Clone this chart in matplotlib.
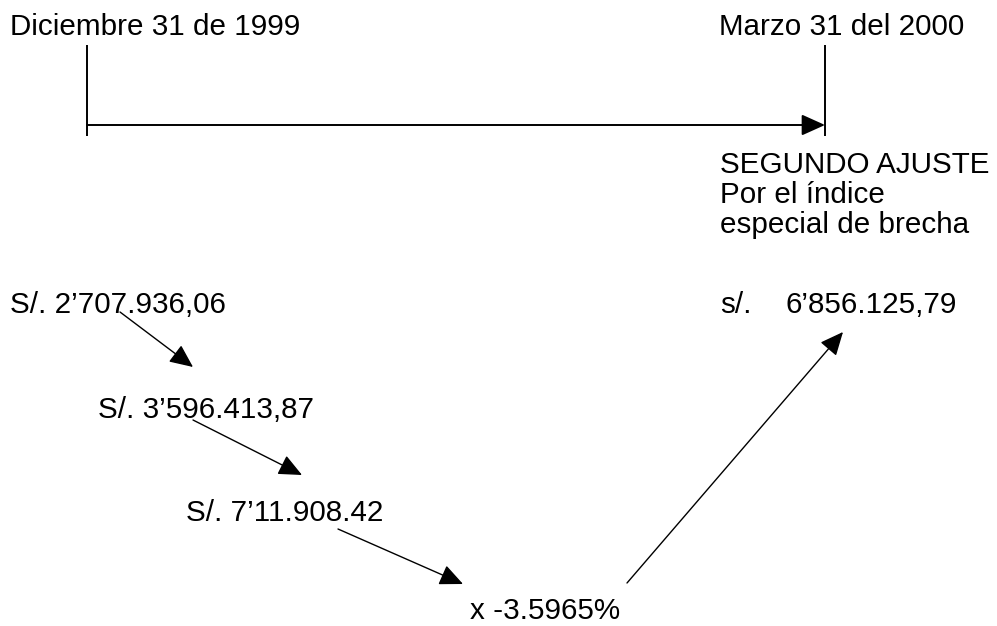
import matplotlib
matplotlib.use("Agg")
import matplotlib.pyplot as plt

plt.rcParams['font.family'] = ['Liberation Sans', 'DejaVu Sans']

# texts of the diagram
date_labels = ["Diciembre 31 de 1999", "Marzo 31 del 2000"]
note_lines = ["SEGUNDO AJUSTE", "Por el índice", "especial de brecha"]
amount_labels = ["S/. 2’707.936,06", "S/. 3’596.413,87", "S/. 7’11.908.42", "x -3.5965%"]
result_prefix = "s/."
result_value = "6’856.125,79"

# layout (pixel coords, y grows downward)
date_x = [10, 719]
date_y = 35
tick_x = [87, 825]
tick_top, tick_bottom = 45, 136
timeline_y = 125
note_x = 720
note_y = [173, 203, 233]
amount_x = [10, 98, 186, 470]
amount_y = [313, 418, 521, 619]
result_x = [720, 785]
result_y = 313
# arrows: (start, tip)
step_arrows = [
    ((120, 312), (193, 367)),
    ((193, 420), (302, 475)),
    ((338, 529), (463, 584)),
    ((627, 583), (843, 332)),
]

FS = 21.3
head = '-|>,head_length=1.0,head_width=0.45'

fig = plt.figure(figsize=(9.97, 6.26), dpi=100)
ax = fig.add_axes([0, 0, 1, 1])
ax.set_xlim(0, 997)
ax.set_ylim(626, 0)
ax.axis('off')

for label, x in zip(date_labels, date_x):
    ax.text(x, date_y, label, fontsize=FS, ha='left', va='baseline')

for x in tick_x:
    ax.plot([x, x], [tick_top, tick_bottom], color='black', lw=1.4, solid_capstyle='butt')

ax.annotate('', xy=(tick_x[1], timeline_y), xytext=(tick_x[0], timeline_y),
            arrowprops=dict(arrowstyle=head, mutation_scale=14.4, color='black',
                            lw=1.4, shrinkA=0, shrinkB=0))

for line, y in zip(note_lines, note_y):
    ax.text(note_x, y, line, fontsize=FS, ha='left', va='baseline')

for label, x, y in zip(amount_labels, amount_x, amount_y):
    ax.text(x, y, label, fontsize=FS, ha='left', va='baseline')

ax.text(result_x[0], result_y, result_prefix, fontsize=FS, ha='left', va='baseline')
ax.text(result_x[1], result_y, result_value, fontsize=FS, ha='left', va='baseline')

for start, tip in step_arrows:
    ax.annotate('', xy=tip, xytext=start,
                arrowprops=dict(arrowstyle=head, mutation_scale=14.4, color='black',
                                lw=1.0, shrinkA=0, shrinkB=0))

fig.savefig("out.png", dpi=100, facecolor='white')
